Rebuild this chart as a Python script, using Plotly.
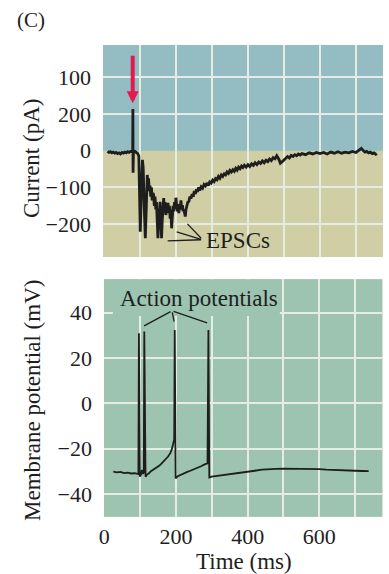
import plotly.graph_objects as go

# ---------------- data ----------------
# Panel C top: synaptic current (pA) vs time (ms)
current_t = [10, 14, 18, 22, 26, 30, 34, 38, 42, 46, 50, 54, 58, 62, 66, 70, 74, 78, 80, 80.5, 81, 82,
             86, 90, 94, 97, 99, 101, 103, 105, 107, 109, 111, 113, 115, 117, 119, 120.5, 122, 124,
             126, 128, 130, 132, 134, 136, 138, 140, 142, 144, 146, 148, 150, 152, 154, 156, 158,
             160, 162, 164, 166, 168, 170, 172, 174, 176, 178, 180, 182, 184, 186, 188, 190, 192,
             194, 196, 198, 200, 202, 204, 206, 208, 210, 212, 214, 216, 218, 220, 222, 224, 226,
             228, 230, 233, 236, 239, 242, 245, 248, 251, 254, 257, 260, 263, 266, 270, 274, 278,
             282, 286, 290, 294, 298, 302, 306, 310, 314, 318, 322, 326, 330, 334, 338, 342, 346,
             350, 354, 358, 362, 366, 370, 374, 378, 382, 386, 390, 395, 400, 405, 410, 415, 420,
             425, 430, 435, 440, 445, 450, 455, 460, 465, 470, 475, 480, 485, 490, 495, 500, 505,
             510, 515, 520, 525, 530, 535, 540, 545, 550, 560, 570, 580, 590, 600, 610, 620, 630,
             640, 650, 660, 670, 680, 690, 700, 705, 710, 715, 720, 725, 730, 735, 740, 745, 750,
             755, 758]
current_pa = [-2, -5, -3, -6, -4, -7, -5, -8, -6, -9, -5, -7, -4, -6, -3, -5, -2, -4, -3, 113, -60, -3,
              -2, -5, -8, -15, -120, -220, -150, -40, -25, -45, -90, -180, -238, -160, -80, -66, -90, -75,
              -110, -95, -125, -100, -135, -115, -120, -150, -125, -160, -140, -190, -238, -200, -145, -139, -170,
              -238, -190, -150, -129, -165, -140, -175, -148, -160, -142, -170, -150, -185, -160, -211, -190, -150,
              -165, -140, -158, -128, -150, -165, -145, -170, -150, -155, -135, -160, -148, -165, -160, -178, -179,
              -160, -150, -140, -138, -125, -130, -118, -125, -110, -118, -105, -112, -100, -108, -98, -102, -92,
              -96, -88, -95, -85, -88, -80, -84, -76, -79, -70, -75, -66, -70, -63, -66, -58, -62,
              -54, -58, -52, -56, -48, -53, -45, -49, -42, -46, -40, -45, -38, -43, -36, -40, -33,
              -38, -31, -35, -28, -33, -26, -30, -23, -27, -19, -22, -14, -22, -34, -30, -26, -22,
              -16, -20, -13, -16, -11, -14, -9, -12, -8, -11, -6, -9, -5, -8, -5, -9, -4,
              -7, -3, -7, -4, -6, -2, -5, -1, 3, 6, 0, -4, -2, -6, -4, -8, -6,
              -10, -8]

# Panel C bottom: membrane potential (mV) vs time (ms)
vm_t = [25, 35, 45, 55, 65, 75, 85, 95, 96.5, 97.5, 99, 102, 105, 108, 110, 111.5, 113, 115, 119,
        124, 130, 138, 146, 154, 162, 170, 178, 184, 188, 192, 195, 196.5, 197.5, 199, 205, 212,
        220, 230, 240, 250, 260, 270, 280, 288, 290.5, 291.5, 293, 300, 320, 340, 360, 380, 400,
        420, 440, 460, 480, 500, 520, 540, 560, 580, 600, 620, 640, 660, 680, 700, 720, 738]
vm_mv = [-30.2, -30.5, -30.3, -30.8, -30.6, -31.0, -30.9, -31.3, 31.0, -20.0, -32.4, -31.5, -29.5, -31.2,
         -30.5, 31.7, -25.0, -32.4, -31.5, -31.0, -30.0, -29.2, -28.5, -27.5, -26.2, -25.0, -23.5, -22.0,
         -20.5, -18.0, -16.0, 32.4, -10.0, -33.2, -32.2, -31.6, -31.0, -30.4, -29.8, -29.2, -28.5, -27.8,
         -27.0, -26.5, 32.4, -20.0, -32.8, -32.4, -32.0, -31.7, -31.3, -30.8, -30.2, -29.8, -29.3, -29.0,
         -29.0, -28.9, -28.9, -28.8, -29.0, -29.0, -29.1, -29.3, -29.5, -29.6, -29.6, -29.8, -29.9, -30.0]

top_tick_vals = [200, 100, 0, -100, -200]
top_tick_text = ["100", "200", "0", "\u2212100", "\u2212200"]
bottom_y_ticks = [-40, -20, 0, 20, 40]
x_grid_vals = [0, 100, 200, 300, 400, 500, 600, 700]
x_tick_text = ["0", " ", "200", " ", "400", " ", "600", " "]

# ---------------- styling ----------------
FONT = "Liberation Serif"
FS_TICK = 22
FS_TXT = 23
INK = "#1e1e1e"
BLUE = "#93bcc3"
TAN = "#cfcea5"
GREEN = "#9dc4b0"
GRID = "#e6ece2"
RED = "#e5194d"

fig = go.Figure()
fig.add_trace(go.Scatter(x=current_t, y=current_pa, mode="lines",
                         line=dict(color=INK, width=2.8), xaxis="x", yaxis="y",
                         showlegend=False, hoverinfo="skip"))
fig.add_trace(go.Scatter(x=vm_t, y=vm_mv, mode="lines",
                         line=dict(color=INK, width=1.8), xaxis="x2", yaxis="y2",
                         showlegend=False, hoverinfo="skip"))

W, H = 389, 574
top_dom_x = [103 / W, 383 / W]
top_dom_y = [1 - 257 / H, 1 - 45 / H]
bot_dom_x = [104 / W, 382.3 / W]
bot_dom_y = [1 - 516.7 / H, 1 - 279.3 / H]

axis_common = dict(showline=False, ticks="", gridcolor=GRID, gridwidth=2,
                   tickfont=dict(family=FONT, size=FS_TICK, color=INK),
                   automargin=False, fixedrange=True)
hide_zero = dict(zeroline=True, zerolinecolor="rgba(0,0,0,0)", zerolinewidth=1)

fig.update_layout(
    width=W, height=H,
    margin=dict(l=0, r=0, t=0, b=0),
    paper_bgcolor="white",
    plot_bgcolor=TAN,
    xaxis=dict(domain=top_dom_x, range=[-2.5, 775], anchor="y",
               tickmode="array", tickvals=x_grid_vals, showticklabels=False,
               **axis_common, **hide_zero),
    yaxis=dict(domain=top_dom_y, range=[-289, 287], anchor="x",
               tickmode="array", tickvals=top_tick_vals, ticktext=top_tick_text,
               ticklabelstandoff=11, **axis_common, **hide_zero),
    xaxis2=dict(domain=bot_dom_x, range=[-1, 776], anchor="y2",
                tickmode="array", tickvals=x_grid_vals, ticktext=x_tick_text,
                ticklabelstandoff=4, **axis_common, **hide_zero),
    yaxis2=dict(domain=bot_dom_y, range=[-50.1, 54.8], anchor="x2",
                tickmode="array", tickvals=bottom_y_ticks,
                ticklabelstandoff=11, zeroline=False, **axis_common),
)

# backgrounds
fig.add_shape(type="rect", xref="x domain", yref="y", x0=0, x1=1, y0=0, y1=287,
              fillcolor=BLUE, line=dict(width=0), layer="below")
fig.add_shape(type="rect", xref="x2 domain", yref="y2 domain", x0=0, x1=1, y0=0, y1=1,
              fillcolor=GREEN, line=dict(width=0), layer="below")
# label backdrop over grid in lower panel
fig.add_shape(type="rect", xref="x2", yref="y2", x0=24, x1=490, y0=38.6, y1=54.8,
              fillcolor=GREEN, line=dict(width=0), layer="between")

ann = []
txt = dict(family=FONT, size=FS_TXT, color=INK)
ann.append(dict(text="(C)", xref="paper", yref="paper", x=31 / W, y=1 - 20 / H,
                showarrow=False, font=dict(family=FONT, size=21, color=INK),
                xanchor="center", yanchor="middle"))
ann.append(dict(text="Current (pA)", xref="paper", yref="paper", x=32 / W, y=1 - 158 / H,
                showarrow=False, font=txt, textangle=-90, xanchor="center", yanchor="middle"))
ann.append(dict(text="Membrane potential (mV)", xref="paper", yref="paper", x=32 / W, y=1 - 401 / H,
                showarrow=False, font=txt, textangle=-90, xanchor="center", yanchor="middle"))
ann.append(dict(text="Time (ms)", xref="paper", yref="paper", x=243.5 / W, y=1 - 561.5 / H,
                showarrow=False, font=txt, xanchor="center", yanchor="middle"))

# red stimulus arrow
ann.append(dict(text="", xref="x", yref="y", x=80, y=129, axref="x", ayref="y", ax=80, ay=262,
                showarrow=True, arrowhead=2, arrowsize=0.6, arrowwidth=4, arrowcolor=RED,
                standoff=0, startstandoff=0))

# EPSCs label with leader lines
ann.append(dict(text="EPSCs", xref="x", yref="y", x=279, y=-245, showarrow=False,
                font=txt, xanchor="left", yanchor="middle"))
for ex, ey in [(232, -199), (202, -221), (177, -245)]:
    ann.append(dict(text="", xref="x", yref="y", x=ex, y=ey, axref="x", ayref="y", ax=274, ay=-242,
                    showarrow=True, arrowhead=0, arrowwidth=1.3, arrowcolor=INK))

# Action potentials label with leader lines
ann.append(dict(text="Action potentials", xref="x2", yref="y2", x=264.5, y=46.5, showarrow=False,
                font=txt, xanchor="center", yanchor="middle"))
for ex, ey in [(111, 34.2), (194.7, 36.1), (287, 35.5)]:
    ann.append(dict(text="", xref="x2", yref="y2", x=ex, y=ey, axref="x2", ayref="y2", ax=189, ay=40.9,
                    showarrow=True, arrowhead=0, arrowwidth=1.3, arrowcolor=INK))

fig.update_layout(annotations=ann)
fig.write_html("out.html", config={"displayModeBar": False},
               post_script="document.body.style.margin='0px';document.body.style.padding='0px';")
